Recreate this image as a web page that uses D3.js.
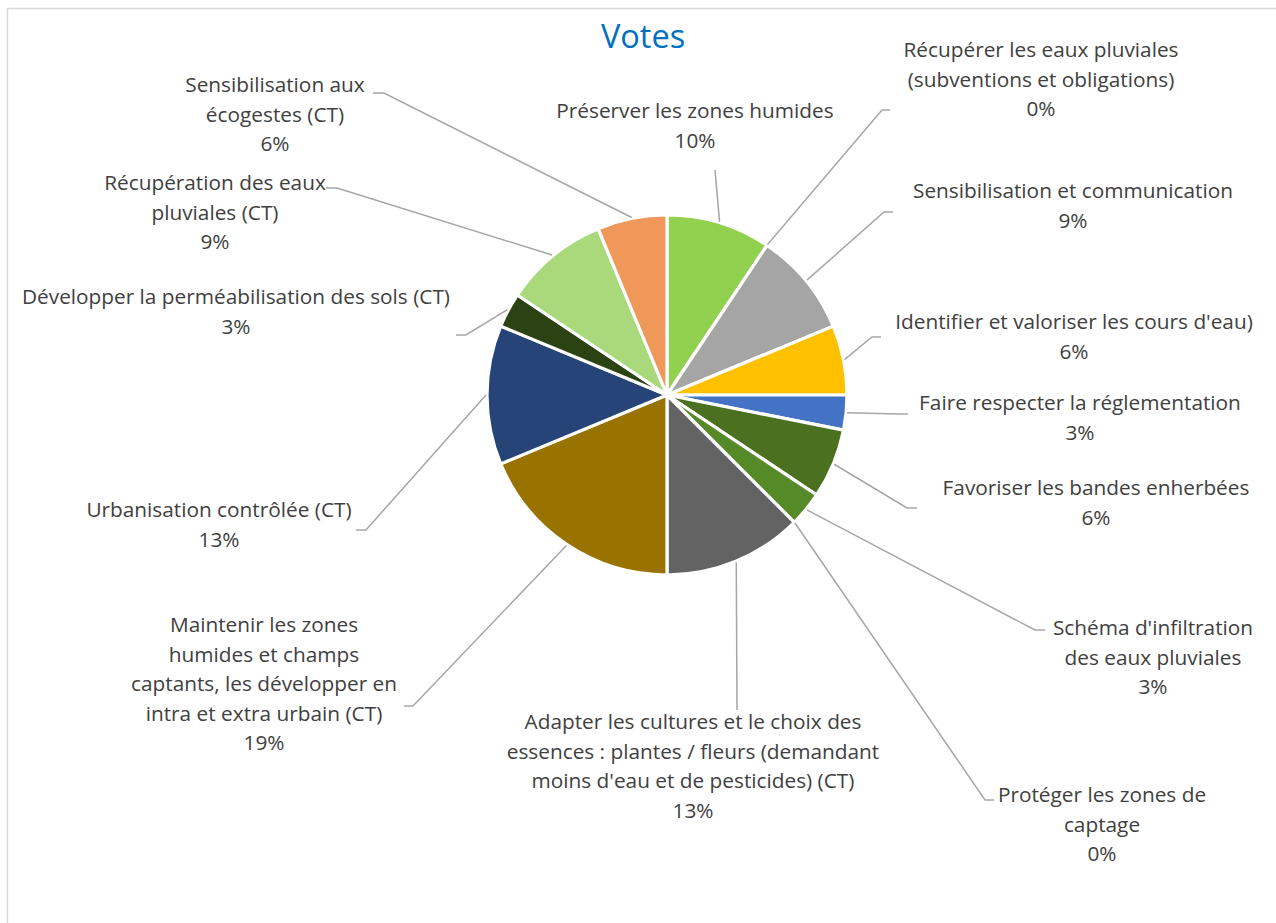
<!DOCTYPE html>
<html>
<head>
<meta charset="utf-8">
<script src="https://cdn.jsdelivr.net/npm/d3@7/dist/d3.min.js"></script>
<style>
  html, body { margin: 0; padding: 0; background: #fff; }
  svg { display: block; }
</style>
</head>
<body>
<svg id="chart" width="1276" height="923"></svg>
<script>
// ---- data ----
const categories = [
  "Préserver les zones humides",
  "Récupérer les eaux pluviales (subventions et obligations)",
  "Sensibilisation et communication",
  "Identifier et valoriser les cours d'eau)",
  "Faire respecter la réglementation",
  "Favoriser les bandes enherbées",
  "Schéma d'infiltration des eaux pluviales",
  "Protéger les zones de captage",
  "Adapter les cultures et le choix des essences : plantes / fleurs (demandant moins d'eau et de pesticides) (CT)",
  "Maintenir les zones humides et champs captants, les développer en intra et extra urbain (CT)",
  "Urbanisation contrôlée (CT)",
  "Développer la perméabilisation des sols (CT)",
  "Récupération des eaux pluviales (CT)",
  "Sensibilisation aux écogestes (CT)"
];
const votes = [3, 0, 3, 2, 1, 2, 1, 0, 4, 6, 4, 1, 3, 2];
const percentLabels = ["10%", "0%", "9%", "6%", "3%", "6%", "3%", "0%", "13%", "19%", "13%", "3%", "9%", "6%"];
const labelLines = [
  ["Préserver les zones humides"],
  ["Récupérer les eaux pluviales", "(subventions et obligations)"],
  ["Sensibilisation et communication"],
  ["Identifier et valoriser les cours d'eau)"],
  ["Faire respecter la réglementation"],
  ["Favoriser les bandes enherbées"],
  ["Schéma d'infiltration", "des eaux pluviales"],
  ["Protéger les zones de", "captage"],
  ["Adapter les cultures et le choix des", "essences : plantes / fleurs (demandant", "moins d'eau et de pesticides) (CT)"],
  ["Maintenir les zones", "humides et champs", "captants, les développer en", "intra et extra urbain (CT)"],
  ["Urbanisation contrôlée (CT)"],
  ["Développer la perméabilisation des sols (CT)"],
  ["Récupération des eaux", "pluviales (CT)"],
  ["Sensibilisation aux", "écogestes (CT)"]
];
const title = "Votes";

// ---- layout (styles / positions) ----
const sliceColors = ["#92D050", "#A5A5A5", "#A5A5A5", "#FFC000", "#4472C4", "#4B7120", "#568A28", "#636363",
                     "#636363", "#997300", "#264478", "#2B4313", "#A9D97B", "#F0975A"];
const cx = 667, cy = 395, R = 180;
const lineH = 29.5;
// label block: [center x, first line center y]
const labelPos = [
  [695, 111], [1041, 50], [1073, 191], [1074, 322], [1080, 403], [1096, 488], [1153, 628],
  [1102, 795], [693, 722], [264, 625], [219, 510], [236, 297], [215, 183], [275, 85]
];
// leader line: [elbow x, elbow y, end x, end y]
const leaderEnds = [
  [715, 170, 715, 170], [882, 110, 890, 110], [884, 212, 893, 212], [872, 337, 881, 337],
  [900, 414, 908, 414], [907, 508, 917, 508], [1035, 630, 1045, 630], [985, 800, 994, 800],
  [737, 710, 737, 710], [413, 706, 404, 706], [366, 530, 356, 530], [466, 335, 456, 335],
  [337, 188, 326, 188], [384, 93, 373, 93]
];

const svg = d3.select("#chart");
svg.append("rect").attr("x", 0).attr("y", 0).attr("width", 1276).attr("height", 923).attr("fill", "#fff");
// chart area border
svg.append("rect").attr("x", 7.5).attr("y", 8.5).attr("width", 1400).attr("height", 1000)
  .attr("fill", "none").attr("stroke", "#D9D9D9").attr("stroke-width", 1.5);

const FONT = "'Open Sans', 'Noto Sans', sans-serif";

svg.append("text").attr("x", 643).attr("y", 37).attr("dy", "0.35em")
  .attr("text-anchor", "middle").attr("font-family", FONT).attr("font-size", 32.5)
  .attr("fill", "#0070C0").text(title);

const pie = d3.pie().sort(null).value(d => d)(votes);
const arc = d3.arc().innerRadius(0).outerRadius(R);
const g = svg.append("g").attr("transform", `translate(${cx},${cy})`);
g.selectAll("path.slice").data(pie).join("path")
  .attr("class", "slice")
  .attr("d", arc)
  .attr("fill", (d, i) => sliceColors[i])
  .attr("stroke", "#fff").attr("stroke-width", d => d.value > 0 ? 3.2 : 0)
  .attr("stroke-linejoin", "round");

// leader lines
const lines = svg.append("g");
pie.forEach((d, i) => {
  const mid = (d.startAngle + d.endAngle) / 2;
  const p = d3.pointRadial(mid, R + 1);
  const le = leaderEnds[i];
  const pts = [[cx + p[0], cy + p[1]], [le[0], le[1]], [le[2], le[3]]];
  lines.append("path").attr("d", d3.line()(pts))
    .attr("fill", "none").attr("stroke", "#A6A6A6").attr("stroke-width", 1.5);
});

// labels
const lg = svg.append("g").attr("font-family", FONT).attr("font-size", 20.8).attr("fill", "#404040");
labelLines.forEach((ls, i) => {
  const all = ls.concat([percentLabels[i]]);
  const t = lg.append("text").attr("text-anchor", "middle");
  all.forEach((s, k) => {
    t.append("tspan").attr("x", labelPos[i][0]).attr("y", labelPos[i][1] + k * lineH)
      .attr("dy", "0.35em").text(s);
  });
});
</script>
</body>
</html>
